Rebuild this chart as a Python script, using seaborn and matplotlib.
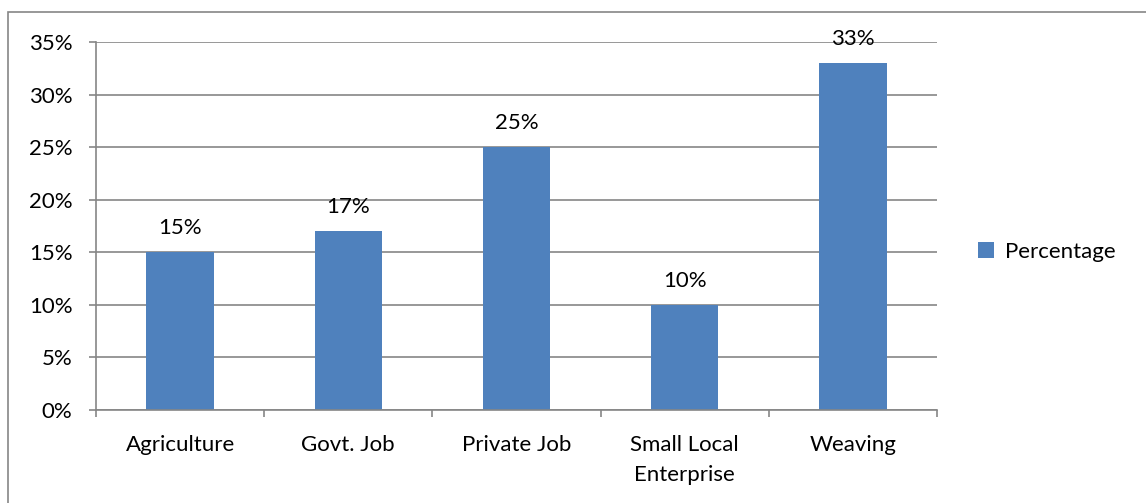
#!/usr/bin/env python3
"""Occupation share bar chart, Excel-style."""

import matplotlib
matplotlib.use("Agg")
import matplotlib.pyplot as plt
import numpy as np
import seaborn as sns
from matplotlib.patches import Rectangle
from matplotlib.ticker import FuncFormatter, MultipleLocator

CATEGORIES = ["Agriculture", "Govt. Job", "Private Job", "Small Local\nEnterprise", "Weaving"]
PERCENTAGES = [15, 17, 25, 10, 33]
SERIES_NAME = "Percentage"

BAR_COLOR = "#4F81BD"
GRID_COLOR = "#868686"
FONT_SIZE = 16


def main() -> None:
    sns.set_style("white")
    plt.rcParams["font.family"] = ["Lato", "DejaVu Sans"]
    plt.rcParams["text.color"] = "black"

    fig = plt.figure(figsize=(11.46, 5.03), dpi=100)
    ax = fig.add_axes([96 / 1146, 1 - 410 / 503, (937 - 96) / 1146, (410 - 42) / 503])

    sns.barplot(x=CATEGORIES, y=PERCENTAGES, color=BAR_COLOR, width=0.4,
                saturation=1, label=SERIES_NAME, linewidth=0, ax=ax)

    ax.set_ylim(0, 35)
    ax.set_xlim(-0.5, len(CATEGORIES) - 0.5)
    ax.yaxis.set_major_locator(MultipleLocator(5))
    ax.yaxis.set_major_formatter(FuncFormatter(lambda v, _: f"{v:.0f}%"))
    ax.grid(axis="y", color=GRID_COLOR, linewidth=1.2)
    ax.set_axisbelow(True)

    for side in ("top", "right"):
        ax.spines[side].set_visible(False)
    for side in ("left", "bottom"):
        ax.spines[side].set_color(GRID_COLOR)
        ax.spines[side].set_linewidth(1.2)

    ax.tick_params(axis="y", length=5, width=1.2, color=GRID_COLOR, pad=12,
                   labelsize=FONT_SIZE, labelcolor="black", left=True)
    ax.tick_params(axis="x", which="major", length=0, pad=18,
                   labelsize=FONT_SIZE, labelcolor="black")
    for label in ax.get_xticklabels():
        label.set_linespacing(1.6)
    ax.set_xticks(np.arange(-0.5, len(CATEGORIES)), minor=True)
    ax.tick_params(axis="x", which="minor", length=5, width=1.2,
                   color=GRID_COLOR, bottom=True)
    ax.set_xlabel("")
    ax.set_ylabel("")

    ax.bar_label(ax.containers[0], labels=[f"{v}%" for v in PERCENTAGES],
                 padding=10, fontsize=FONT_SIZE, color="black")

    ax.legend(loc="center left", bbox_to_anchor=(1.025, 0.43), frameon=False,
              fontsize=FONT_SIZE, handlelength=0.7, handleheight=0.7,
              handletextpad=0.5)

    fig.patches.append(Rectangle((8 / 1146, -0.05), 1.2, 1 - 12 / 503 + 0.05,
                                 transform=fig.transFigure, fill=False,
                                 edgecolor=GRID_COLOR, linewidth=1.2))

    fig.savefig("out.png", dpi=100)
    plt.close(fig)


if __name__ == "__main__":
    main()
